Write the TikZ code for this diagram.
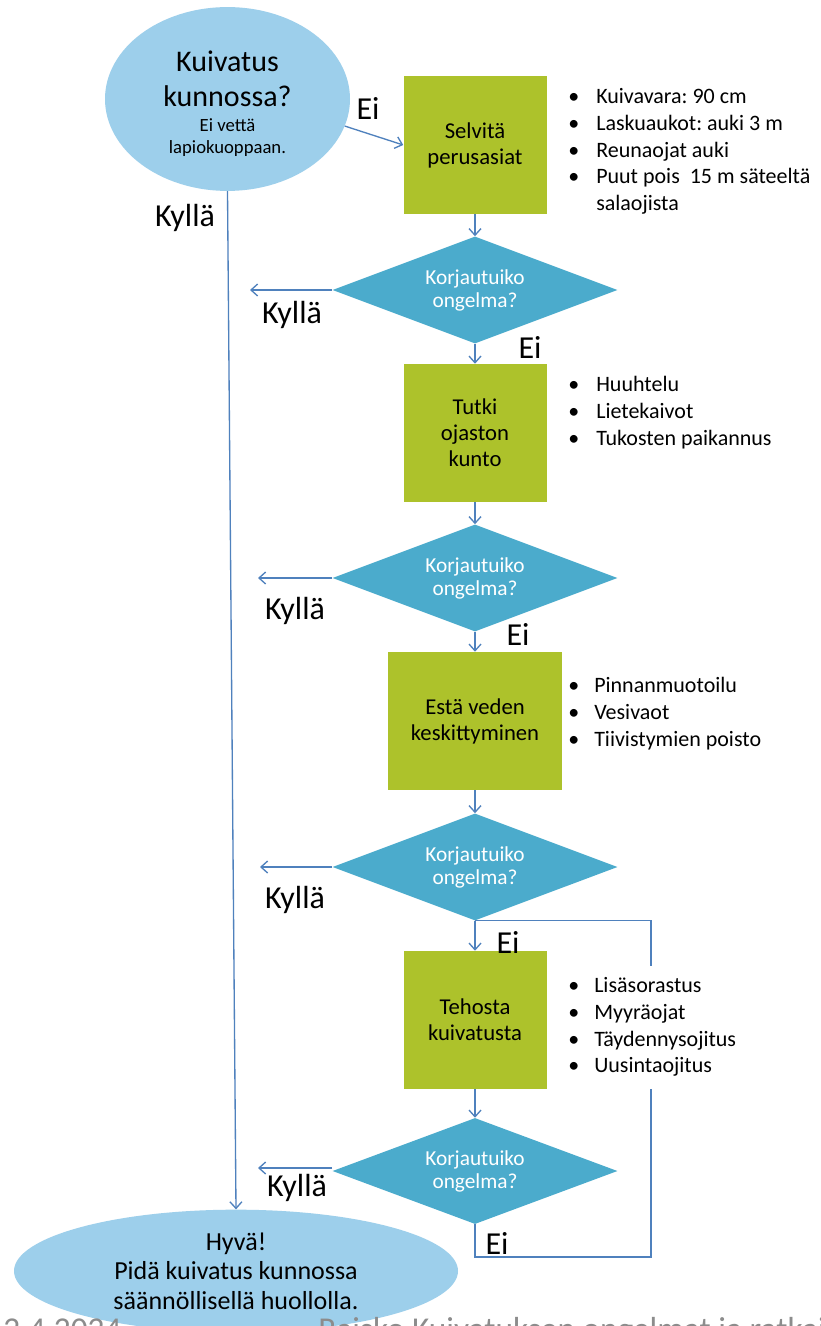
\documentclass[tikz,border=0pt]{standalone}
\usepackage{fontspec}
\setmainfont{Carlito}
\usetikzlibrary{shapes.geometric,arrows.meta}
\definecolor{ellc}{RGB}{157,207,235}
\definecolor{boxc}{RGB}{173,194,43}
\definecolor{diac}{RGB}{75,171,204}
\definecolor{linec}{RGB}{79,129,189}
\definecolor{footc}{RGB}{140,140,140}
\frenchspacing
\begin{document}
\begin{tikzpicture}[x=0.75pt,y=-0.75pt,
  ell/.style={ellipse, fill=ellc, inner sep=0pt, align=center},
  ebox/.style={rectangle, fill=boxc, minimum width=107.25pt, minimum height=103.5pt, inner sep=0pt, align=center, font=\fontsize{17}{19.5}\selectfont},
  dia/.style={diamond, aspect=2.66, fill=diac, minimum width=213.75pt, minimum height=80.25pt, inner sep=0pt, align=center, text=white, font=\fontsize{16}{17.25}\selectfont},
  conn/.style={draw=linec, line width=1pt},
  arr/.style={conn, -{Straight Barb[length=5pt,width=9pt]}},
  lbl/.style={font=\fontsize{24}{28}\selectfont, inner sep=0pt},
  listbox/.style={inner sep=0pt, anchor=north west, font=\fontsize{16.5}{20}\selectfont},
  foot/.style={font=\fontsize{25}{30}\selectfont, text=footc, inner sep=0pt, anchor=base west}]
\fill[white] (0,0) rectangle (820,1326);
\useasboundingbox (0,0) rectangle (820,1326);

% start ellipse
\node[ell, minimum width=183.75pt, minimum height=136.5pt, font=\fontsize{22.5}{26}\selectfont] (e1) at (227.5,99)
  {\begin{tabular}{@{}c@{}}
    \noalign{\vskip 10pt}
    Kuivatus\\
    kunnossa?\\[-7pt]
    {\fontsize{14}{16.5}\selectfont Ei vettä}\\[-9.5pt]
    {\fontsize{14}{16.5}\selectfont lapiokuoppaan.}
   \end{tabular}};

% end ellipse
\node[ell, minimum width=333pt, minimum height=92pt, font=\fontsize{19.5}{22}\selectfont] (e2) at (236,1271)
  {Hyvä!\\Pidä kuivatus kunnossa\\säännöllisellä huollolla.};

% process boxes
\node[ebox] (b1) at (475,145) {Selvitä\\perusasiat};
\node[ebox] (b2) at (475,433) {Tutki\\ojaston\\kunto};
\node[ebox, minimum width=130.5pt] (b3) at (475,721) {Estä veden\\keskittyminen};
\node[ebox] (b4) at (475,1020) {Tehosta\\kuivatusta};

% decisions
\node[dia] (d1) at (475,290) {Korjautuiko\\ongelma?};
\node[dia] (d2) at (475,578) {Korjautuiko\\ongelma?};
\node[dia] (d3) at (475,867) {Korjautuiko\\ongelma?};
\node[dia, minimum height=79.5pt] (d4) at (475,1171) {Korjautuiko\\ongelma?};

% bullet lists
\node[listbox] (l1) at (568,85) {\begin{tabular}{@{}p{21pt}@{}l@{}}
  • & Kuivavara: 90 cm\\
  • & Laskuaukot: auki 3 m\\
  • & Reunaojat auki\\
  • & Puut pois\ \ 15 m säteeltä\\
    & salaojista
  \end{tabular}};
\node[listbox] (l2) at (568,373) {\begin{tabular}{@{}p{21pt}@{}l@{}}
  • & Huuhtelu\\
  • & Lietekaivot\\
  • & Tukosten paikannus
  \end{tabular}};
\node[listbox] (l3) at (568,674) {\begin{tabular}{@{}p{19.5pt}@{}l@{}}
  • & Pinnanmuotoilu\\
  • & Vesivaot\\
  • & Tiivistymien poisto
  \end{tabular}};

% connectors
\draw[arr] (e1.-13) -- (b1.west);
\node[lbl] (ei0) at (368,108) {Ei};
\draw[arr] (e1.south) -- (e2.north);
\node[lbl] (ky0) at (185,218) {Kyllä};

\draw[arr] (b1.south) -- (d1.north);
\draw[arr] (d1.south) -- (b2.north);
\draw[arr] (b2.south) -- (d2.north);
\draw[arr] (d2.south) -- (b3.north);
\draw[arr] (b3.south) -- (d3.north);
\draw[arr] (d3.south) -- (b4.north);
\draw[arr] (b4.south) -- (d4.north);

\coordinate (k1) at (250,290);
\coordinate (k2) at (258,578);
\coordinate (k3) at (260,867);
\coordinate (k4) at (258,1168);
\draw[arr] (d1.west) -- (k1);
\draw[arr] (d2.west) -- (k2);
\draw[arr] (d3.west) -- (k3);
\draw[arr] (d4.west |- k4) -- (k4);

\node[lbl] (ky1) at (292,315) {Kyllä};
\node[lbl] (ky2) at (295,611) {Kyllä};
\node[lbl] (ky3) at (295,900) {Kyllä};
\node[lbl] (ky4) at (297,1188) {Kyllä};

\node[lbl] (ei1) at (530,347) {Ei};
\node[lbl] (ei2) at (518,634) {Ei};
\node[lbl] (ei3) at (508,942) {Ei};
\node[lbl] (ei4) at (497,1243) {Ei};

% loop back from last decision
\coordinate (lb) at (475,1257);
\coordinate (lr) at (651,1000);
\draw[conn] (d4.south) -- (lb) -| (lr) |- (d3.south);

\node[listbox, fill=white, inner sep=6pt] (l4) at (560,966) {\begin{tabular}{@{}p{19.5pt}@{}l@{}}
  • & Lisäsorastus\\
  • & Myyräojat\\
  • & Täydennysojitus\\
  • & Uusintaojitus
  \end{tabular}};

% footer (cut off at page edge)
\node[foot] (f1) at (3,1340) {2.4.2024};
\node[foot] (f2) at (318,1340) {Raisko Kuivatuksen ongelmat ja ratkaisut};
\end{tikzpicture}
\end{document}
